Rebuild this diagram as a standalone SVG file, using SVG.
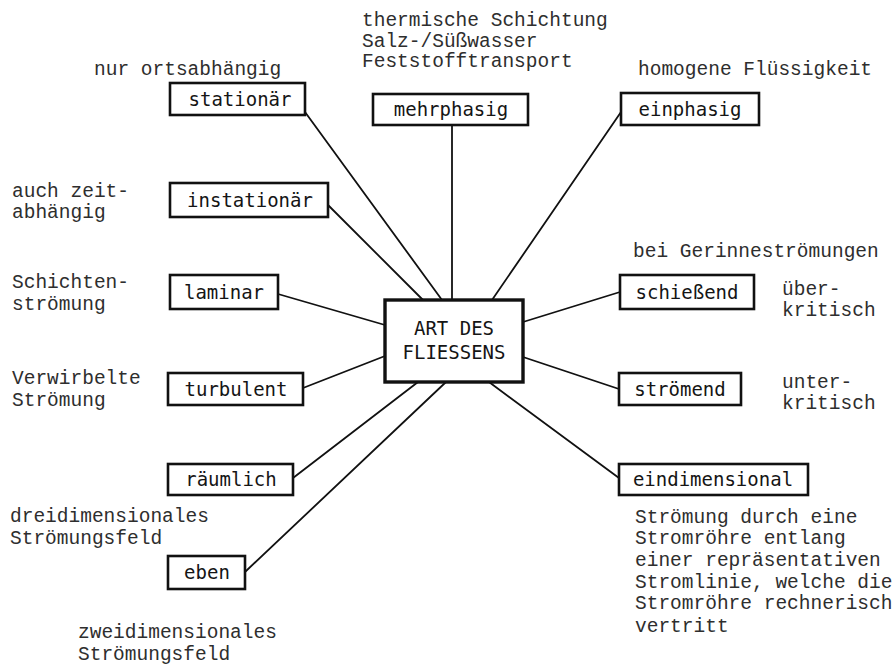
<svg xmlns="http://www.w3.org/2000/svg" width="892" height="665" viewBox="0 0 892 665">
<style>
.bg{fill:#ffffff}
.box{fill:#ffffff;stroke:#111;stroke-width:2.6}
.center{fill:#ffffff;stroke:#111;stroke-width:3.4}
.lbl{font-family:"DejaVu Sans Mono","Liberation Mono",monospace;font-size:19px;fill:#151515;text-anchor:middle}
.ann{font-family:"Liberation Mono","Courier New",monospace;font-size:19.5px;fill:#2e2e2e}
.con line{stroke:#111;stroke-width:1.8;stroke-linecap:round}
</style>
<rect class="bg" x="0" y="0" width="892" height="665"/>
<g id="connectors" class="con">
<line x1="305" y1="112" x2="442" y2="300"/>
<line x1="328" y1="205" x2="423" y2="300"/>
<line x1="452" y1="125" x2="452" y2="300"/>
<line x1="621" y1="112" x2="492" y2="300"/>
<line x1="278" y1="294" x2="385" y2="325"/>
<line x1="303" y1="388" x2="385" y2="356"/>
<line x1="293" y1="478" x2="418" y2="382"/>
<line x1="245" y1="572" x2="446" y2="382"/>
<line x1="523" y1="322" x2="620" y2="292"/>
<line x1="523" y1="357" x2="619" y2="389"/>
<line x1="489" y1="382" x2="619" y2="478"/>
</g>
<g id="center-node">
<rect class="center" x="385" y="300" width="138" height="82"/>
<text class="lbl" x="454" y="335">ART DES</text>
<text class="lbl" x="454" y="359">FLIESSENS</text>
</g>
<g id="n-stationaer">
<rect class="box" x="170" y="83" width="135" height="32"/>
<text class="lbl" x="240" y="106">stationär</text>
</g>
<g id="n-mehrphasig">
<rect class="box" x="373" y="94" width="155" height="31"/>
<text class="lbl" x="451" y="116">mehrphasig</text>
</g>
<g id="n-einphasig">
<rect class="box" x="621" y="93" width="138" height="32"/>
<text class="lbl" x="690" y="116">einphasig</text>
</g>
<g id="n-instationaer">
<rect class="box" x="170" y="183" width="158" height="34"/>
<text class="lbl" x="250" y="207">instationär</text>
</g>
<g id="n-laminar">
<rect class="box" x="170" y="275" width="108" height="34"/>
<text class="lbl" x="224" y="299">laminar</text>
</g>
<g id="n-turbulent">
<rect class="box" x="168" y="373" width="135" height="32"/>
<text class="lbl" x="236" y="396">turbulent</text>
</g>
<g id="n-raeumlich">
<rect class="box" x="168" y="464" width="125" height="31"/>
<text class="lbl" x="231" y="486">räumlich</text>
</g>
<g id="n-eben">
<rect class="box" x="168" y="556" width="77" height="33"/>
<text class="lbl" x="207" y="579">eben</text>
</g>
<g id="n-schiessend">
<rect class="box" x="620" y="275" width="134" height="34"/>
<text class="lbl" x="687" y="299">schießend</text>
</g>
<g id="n-stroemend">
<rect class="box" x="619" y="373" width="122" height="32"/>
<text class="lbl" x="680" y="396">strömend</text>
</g>
<g id="n-eindimensional">
<rect class="box" x="619" y="464" width="189" height="31"/>
<text class="lbl" x="713" y="486">eindimensional</text>
</g>
<g id="annotations">
<text class="ann" x="94" y="75">nur ortsabhängig</text>
<text class="ann" x="362" y="26">thermische Schichtung</text>
<text class="ann" x="362" y="46.5">Salz-/Süßwasser</text>
<text class="ann" x="362" y="67">Feststofftransport</text>
<text class="ann" x="638" y="75">homogene Flüssigkeit</text>
<text class="ann" x="12" y="197">auch zeit-</text>
<text class="ann" x="12" y="218">abhängig</text>
<text class="ann" x="12" y="288">Schichten-</text>
<text class="ann" x="12" y="310">strömung</text>
<text class="ann" x="12" y="384">Verwirbelte</text>
<text class="ann" x="12" y="406">Strömung</text>
<text class="ann" x="10" y="522">dreidimensionales</text>
<text class="ann" x="10" y="544">Strömungsfeld</text>
<text class="ann" x="78" y="638">zweidimensionales</text>
<text class="ann" x="78" y="660">Strömungsfeld</text>
<text class="ann" x="633" y="257">bei Gerinneströmungen</text>
<text class="ann" x="782" y="295">über-</text>
<text class="ann" x="782" y="316">kritisch</text>
<text class="ann" x="782" y="388">unter-</text>
<text class="ann" x="782" y="409">kritisch</text>
<text class="ann" x="635" y="523">Strömung durch eine</text>
<text class="ann" x="635" y="544">Stromröhre entlang</text>
<text class="ann" x="635" y="566">einer repräsentativen</text>
<text class="ann" x="635" y="588">Stromlinie, welche die</text>
<text class="ann" x="635" y="609">Stromröhre rechnerisch</text>
<text class="ann" x="635" y="632">vertritt</text>
</g>
</svg>
